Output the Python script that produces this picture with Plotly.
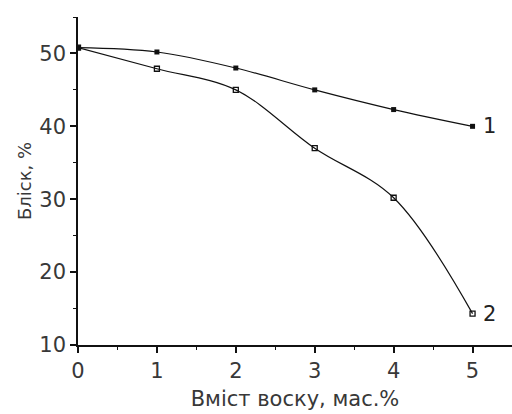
import plotly.graph_objects as go

wax = [0, 1, 2, 3, 4, 5]
gloss_1 = [50.8, 50.2, 48.0, 45.0, 42.3, 40.0]
gloss_2 = [50.8, 47.9, 45.0, 37.0, 30.2, 14.3]
x_ticks = [0, 1, 2, 3, 4, 5]
y_ticks = [10, 20, 30, 40, 50]

FONT = "DejaVu Sans"

fig = go.Figure()
fig.add_trace(go.Scatter(x=wax, y=gloss_1, mode="lines+markers",
                         line=dict(color="#111", width=1.2, shape="spline"),
                         marker=dict(symbol="square", size=5, color="#111")))
fig.add_trace(go.Scatter(x=wax, y=gloss_2, mode="lines+markers",
                         line=dict(color="#111", width=1.2, shape="spline"),
                         marker=dict(symbol="square-open", size=5, color="#111",
                                     line=dict(width=1.3))))
fig.add_annotation(x=5, y=gloss_1[-1], text="1", showarrow=False, xanchor="left",
                   xshift=8, font=dict(size=21, color="#222", family=FONT))
fig.add_annotation(x=5, y=gloss_2[-1], text="2", showarrow=False, xanchor="left",
                   xshift=8, font=dict(size=21, color="#222", family=FONT))

fig.update_layout(
    width=512, height=414,
    margin=dict(l=78, r=0, t=17, b=69),
    paper_bgcolor="white", plot_bgcolor="white",
    showlegend=False,
    font=dict(family=FONT, color="#383838", size=20),
)
fig.update_xaxes(range=[0, 5.5], tickvals=x_ticks, ticks="outside", ticklen=6,
                 tickwidth=1.5, tickcolor="#111", showline=True, linecolor="#111",
                 linewidth=1.5, showgrid=False, zeroline=False,
                 minor=dict(dtick=0.5, ticks="outside", ticklen=3, tickcolor="#111", tickwidth=1.2),
                 title=dict(text="Вміст воску, мас.%", standoff=9, font=dict(size=21)),
                 tickfont=dict(size=21))
fig.update_yaxes(range=[10, 55], tickvals=y_ticks, ticks="outside", ticklen=6,
                 tickwidth=1.5, tickcolor="#111", showline=True, linecolor="#111",
                 linewidth=1.5, showgrid=False, zeroline=False,
                 minor=dict(dtick=5, ticks="outside", ticklen=3, tickcolor="#111", tickwidth=1.2),
                 title=dict(text="Бліск, %", standoff=3, font=dict(size=18)),
                 tickfont=dict(size=21))

fig.write_html("out.html")
